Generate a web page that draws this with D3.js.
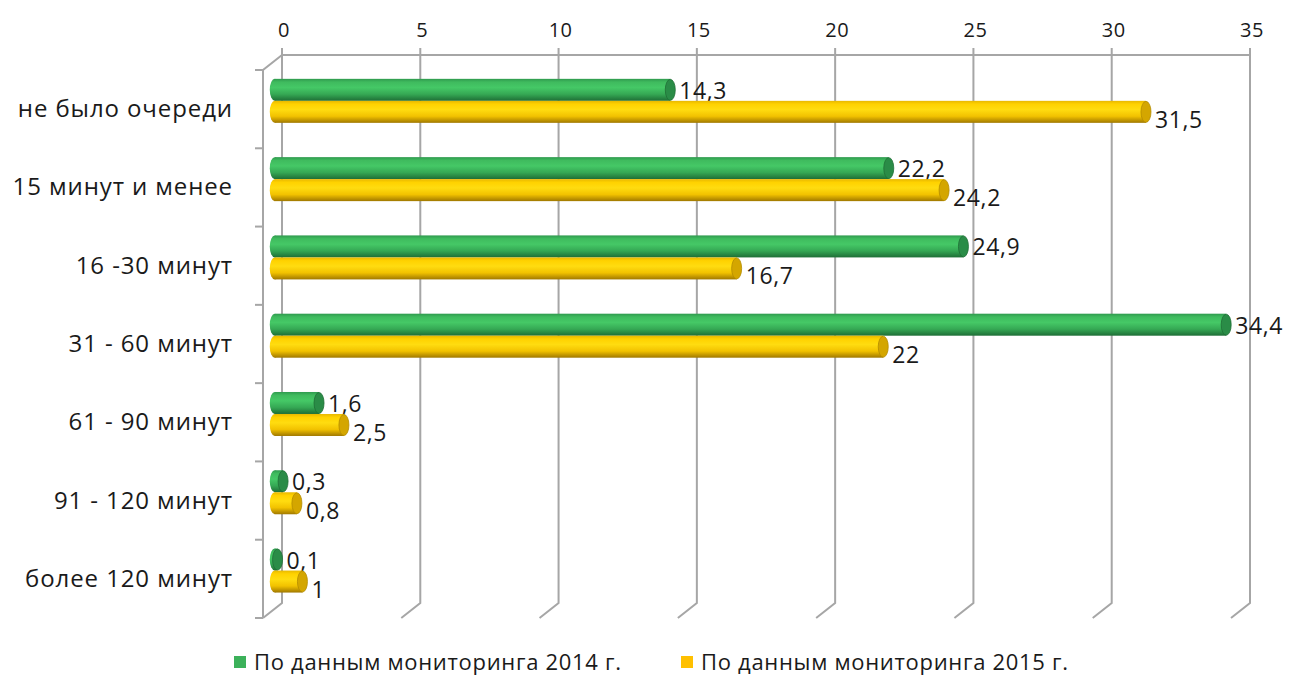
<!DOCTYPE html>
<html>
<head>
<meta charset="utf-8">
<script src="https://cdn.jsdelivr.net/npm/d3@7"></script>
<style>
  body { margin: 0; background: #fff; }
  svg text { font-family: "Open Sans", "Noto Sans", sans-serif; fill: #1a1a1a; }
</style>
</head>
<body>
<svg width="1290" height="675"></svg>
<script>
const categories = ["не было очереди", "15 минут и менее", "16 -30 минут", "31 - 60 минут",
                    "61 - 90 минут", "91 - 120 минут", "более 120 минут"];
const series2014 = [14.3, 22.2, 24.9, 34.4, 1.6, 0.3, 0.1];
const series2015 = [31.5, 24.2, 16.7, 22, 2.5, 0.8, 1];
const seriesNames = ["По данным мониторинга 2014 г.", "По данным мониторинга 2015 г."];
const xTicks = [0, 5, 10, 15, 20, 25, 30, 35];

const svg = d3.select("svg");

// back wall of the 3D box
const x = d3.scaleLinear().domain([0, 35]).range([282, 1250]);
const y = d3.scaleBand().domain(categories).range([55, 603]);
const depth = { dx: -19, dy: 15 };
const gridColor = "#a6a6a6";

const fmt = v => String(v).replace(".", ",");

// gradients for the cylinders
const defs = svg.append("defs");
function cylGradient(id, stops) {
    const g = defs.append("linearGradient").attr("id", id)
        .attr("x1", 0).attr("y1", 0).attr("x2", 0).attr("y2", 1);
    stops.forEach(s => g.append("stop").attr("offset", s[0]).attr("stop-color", s[1]));
}
cylGradient("gGreen", [[0, "#2f9a4e"], [0.15, "#3fbb5e"], [0.4, "#45c866"], [0.7, "#35a854"], [1, "#1e6e36"]]);
cylGradient("gYellow", [[0, "#e8b800"], [0.15, "#ffd200"], [0.4, "#ffdc10"], [0.7, "#f2c200"], [1, "#a07800"]]);

const grid = svg.append("g").attr("stroke", gridColor).attr("stroke-width", 2).attr("fill", "none");

// top line and ticks of the axis
grid.append("line").attr("x1", x(0)).attr("x2", x(35)).attr("y1", 55).attr("y2", 55);
grid.selectAll(".v").data(xTicks).enter().append("path")
    .attr("d", d => `M${x(d)},48 L${x(d)},603 L${x(d) + depth.dx},${603 + depth.dy}`);

// left wall
grid.append("path")
    .attr("d", `M${x(0)},55 L${x(0) + depth.dx},${55 + depth.dy} L${x(0) + depth.dx},${603 + depth.dy}`);
const bounds = categories.map(c => y(c)).concat([603]);
grid.selectAll(".yt").data(bounds).enter().append("line")
    .attr("x1", x(0) + depth.dx - 8).attr("x2", x(0) + depth.dx)
    .attr("y1", d => d + depth.dy).attr("y2", d => d + depth.dy);

// tick labels
svg.append("g").selectAll("text").data(xTicks).enter().append("text")
    .attr("x", d => x(d) + 2).attr("y", 37)
    .attr("text-anchor", "middle").attr("font-size", 20).attr("letter-spacing", 0.5)
    .text(d => d);

// category labels
svg.append("g").selectAll("text").data(categories).enter().append("text")
    .attr("x", 233).attr("y", d => y(d) + y.bandwidth() / 2 + depth.dy + 8)
    .attr("text-anchor", "end").attr("font-size", 24).attr("letter-spacing", 0.9)
    .text(d => d);

// bars (cylinders) placed partway into the depth
const t = 0.38;
const ox = depth.dx * t, oy = depth.dy * t + 1;
const barH = 22, rx = 5;
const groupPad = (y.bandwidth() - 2 * barH) / 2;

const series = [
    { name: seriesNames[0], values: series2014, fill: "url(#gGreen)", cap: "#2a8c47", sw: "#1f6e36", labelDy: 9 },
    { name: seriesNames[1], values: series2015, fill: "url(#gYellow)", cap: "#d4a600", sw: "#b48c00", labelDy: 16 }
];

series.forEach((s, si) => {
    const g = svg.append("g");
    const rows = categories.map((c, i) => ({ c, v: s.values[i] }));
    const top = d => y(d.c) + groupPad + si * barH + oy;
    const x0 = x(0) + ox;
    const x1 = d => x(d.v) + ox;
    // left rounded end
    g.selectAll(".l").data(rows).enter().append("ellipse")
        .attr("cx", x0).attr("cy", d => top(d) + barH / 2)
        .attr("rx", rx).attr("ry", barH / 2).attr("fill", s.fill);
    // body
    g.selectAll(".b").data(rows).enter().append("rect")
        .attr("x", x0).attr("y", top)
        .attr("width", d => x1(d) - x0).attr("height", barH)
        .attr("fill", s.fill);
    // right end cap
    g.selectAll(".r").data(rows).enter().append("ellipse")
        .attr("cx", x1).attr("cy", d => top(d) + barH / 2)
        .attr("rx", rx).attr("ry", barH / 2 - 0.5)
        .attr("fill", s.cap).attr("stroke", s.sw).attr("stroke-width", 0.8);
    // data labels
    g.selectAll(".t").data(rows).enter().append("text")
        .attr("x", d => x1(d) + rx + 4)
        .attr("y", d => top(d) + barH / 2 + s.labelDy)
        .attr("font-size", 23).attr("letter-spacing", 0.6)
        .text(d => fmt(d.v));
});

// legend
const legend = svg.append("g");
const legendX = [234, 681];
const legendColors = ["#3cb15a", "#ffc000"];
seriesNames.forEach((n, i) => {
    legend.append("rect").attr("x", legendX[i]).attr("y", 656)
        .attr("width", 12).attr("height", 12).attr("fill", legendColors[i]);
    legend.append("text").attr("x", legendX[i] + 20).attr("y", 670)
        .attr("font-size", 22).attr("letter-spacing", 0.7).text(n);
});
</script>
</body>
</html>
